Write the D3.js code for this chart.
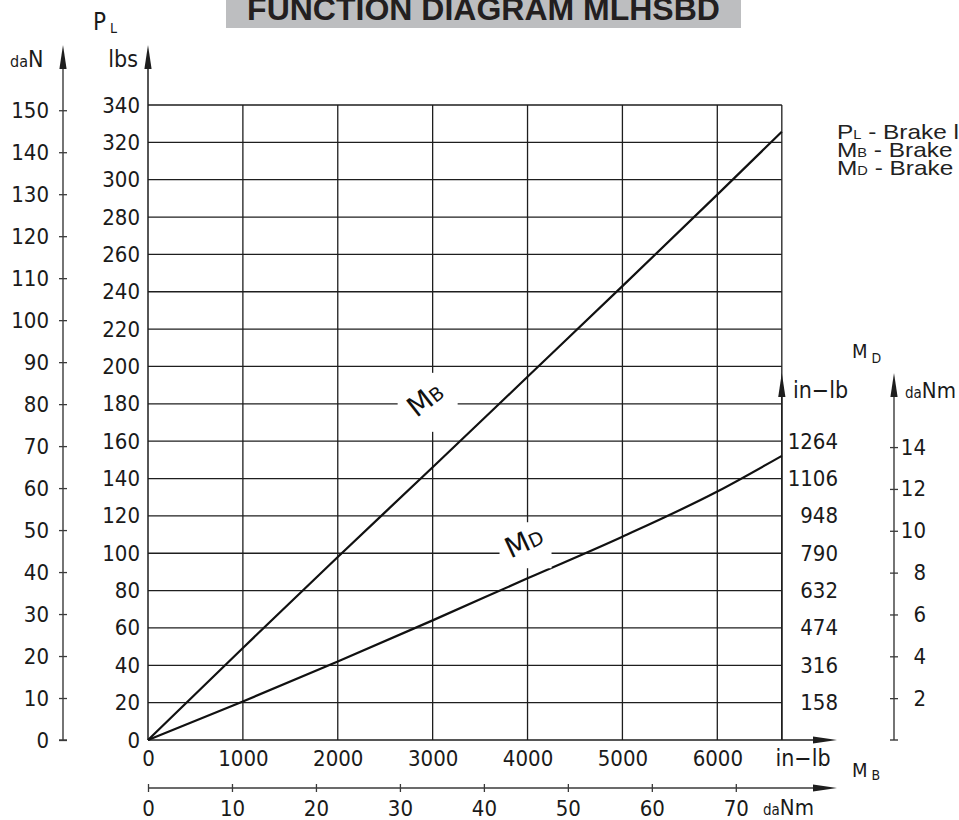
<!DOCTYPE html>
<html>
<head>
<meta charset="utf-8">
<script src="https://cdn.jsdelivr.net/npm/d3@7"></script>
<style>
  body { margin: 0; background: #fff; }
  svg { display: block; }
  .tech { font-family: 'DejaVu Sans Condensed', 'DejaVu Sans', sans-serif; font-stretch: condensed; fill: #1a1a1a; }
  .axis text { font-family: 'DejaVu Sans Condensed', 'DejaVu Sans', sans-serif; font-stretch: condensed; font-size: 22px; fill: #1a1a1a; }
  .axis .domain { display: none; }
  .legend { font-family: 'Liberation Sans', Arial, sans-serif; font-size: 20px; fill: #222; }
</style>
</head>
<body>
<div id="chart"></div>
<script>
// values
let lbsTicks = [0, 20, 40, 60, 80, 100, 120, 140, 160, 180, 200, 220, 240, 260, 280, 300, 320, 340]
let daNTicks = [0, 10, 20, 30, 40, 50, 60, 70, 80, 90, 100, 110, 120, 130, 140, 150]
let inLbTicks = [0, 1000, 2000, 3000, 4000, 5000, 6000]
let daNmTicks = [0, 10, 20, 30, 40, 50, 60, 70]
let mdInLbTicks = [158, 316, 474, 632, 790, 948, 1106, 1264]
let mdDaNmTicks = [2, 4, 6, 8, 10, 12, 14]

// M_B in in-lb (x) against P_L in lbs, and M_D in in-lb
let mbInLb = [0, 1000, 2000, 3000, 4000, 5000, 6000, 6680]
let plLbs  = [0, 49.3, 98, 146, 194.5, 243, 292, 325.7]
let mdInLb = [0, 163, 332, 506, 684, 860, 1051, 1202]

const lbsPerDaN = 2.248
const inLbPerDaNm = 88.5
const xMax = 6680

let W = 959, H = 820
let fmt = d3.format('d')

let svg = d3.select('#chart')
    .append('svg')
    .attr('width', W)
    .attr('height', H)

let x = d3.scaleLinear().domain([0, 6000]).range([148, 717.3])
let y = d3.scaleLinear().domain([0, 340]).range([740, 105])
let yDaN = d3.scaleLinear().domain([0, 150]).range([740, y(150 * lbsPerDaN)])
let yMd = d3.scaleLinear().domain([0, 1264]).range([740, y(160)])
let yMdDaNm = d3.scaleLinear().domain([0, 14]).range([740, yMd(14 * inLbPerDaNm)])
let xDaNm = d3.scaleLinear().domain([0, 70]).range([148, x(70 * inLbPerDaNm)])

const xL = x(0), xR = x(xMax), yB = y(0), yT = y(340)
const ink = '#1e1e1e'

function arrowUp(cx, tip) {
    return `M${cx},${tip} L${cx - 3.6},${tip + 24} L${cx + 3.6},${tip + 24} Z`
}
function arrowRight(tip, cy) {
    return `M${tip},${cy} L${tip - 24},${cy - 3.6} L${tip - 24},${cy + 3.6} Z`
}

// title
svg.append('rect').attr('x', 226).attr('y', 0).attr('width', 515).attr('height', 28).attr('fill', '#bdbec0')
svg.append('text')
    .attr('x', 483.5).attr('y', 20)
    .attr('text-anchor', 'middle')
    .style('font-family', "'Liberation Sans', Arial, sans-serif")
    .style('font-weight', 'bold')
    .style('font-size', '32px')
    .style('fill', '#231f20')
    .text('FUNCTION DIAGRAM MLHSBD')

// grid
let grid = svg.append('g').attr('stroke', ink).attr('stroke-width', 1.3)
grid.selectAll('.hgrid')
    .data(lbsTicks.slice(1))
    .join('line')
    .attr('x1', xL).attr('x2', xR)
    .attr('y1', d => y(d)).attr('y2', d => y(d))
grid.selectAll('.vgrid')
    .data(inLbTicks.slice(1).concat([xMax]))
    .join('line')
    .attr('x1', d => x(d)).attr('x2', d => x(d))
    .attr('y1', yT).attr('y2', yB)

// main axes lines + arrows
let axes = svg.append('g').attr('stroke', ink).attr('stroke-width', 1.5)
axes.append('line').attr('x1', xL).attr('x2', xL).attr('y1', yB).attr('y2', 60)
axes.append('line').attr('x1', xL).attr('x2', 820).attr('y1', yB).attr('y2', yB)
axes.append('line').attr('x1', xR).attr('x2', xR).attr('y1', yB).attr('y2', 390)
svg.append('path').attr('d', arrowUp(xL, 45)).attr('fill', ink)
svg.append('path').attr('d', arrowRight(837, yB)).attr('fill', ink)
svg.append('path').attr('d', arrowUp(xR, 373)).attr('fill', ink)

// secondary axes
const axGray = '#3a3a3a'
function sideLine(x1, y1, x2, y2) {
    svg.append('line').attr('x1', x1).attr('y1', y1).attr('x2', x2).attr('y2', y2)
        .attr('stroke', axGray).attr('stroke-width', 1.4)
}
sideLine(63, yB, 63, 60)
svg.append('path').attr('d', arrowUp(63, 45)).attr('fill', ink)
sideLine(894, yB, 894, 390)
svg.append('path').attr('d', arrowUp(894, 373)).attr('fill', ink)
sideLine(xL, 788, 820, 788)
svg.append('path').attr('d', arrowRight(837, 788)).attr('fill', ink)

// lbs
svg.append('g').attr('class', 'axis')
    .attr('transform', `translate(${xL},0)`)
    .call(d3.axisLeft(y).tickValues(lbsTicks).tickFormat(fmt).tickSize(0).tickPadding(8))

// daN
let gDaN = svg.append('g').attr('class', 'axis')
    .attr('transform', 'translate(63,0)')
    .call(d3.axisLeft(yDaN).tickValues(daNTicks).tickFormat(fmt).tickSize(4).tickPadding(10))
gDaN.selectAll('.tick line').attr('x1', -4).attr('x2', 4).attr('stroke', axGray).attr('stroke-width', 1.3)

// in-lb (M_B)
svg.append('g').attr('class', 'axis')
    .attr('transform', `translate(0,${yB})`)
    .call(d3.axisBottom(x).tickValues(inLbTicks).tickFormat(fmt).tickSize(0).tickPadding(10))

// daNm (M_B)
let gDaNm = svg.append('g').attr('class', 'axis')
    .attr('transform', 'translate(0,788)')
    .call(d3.axisBottom(xDaNm).tickValues(daNmTicks).tickFormat(fmt).tickSize(4).tickPadding(8))
gDaNm.selectAll('.tick line').attr('y1', -4).attr('y2', 4).attr('stroke', axGray).attr('stroke-width', 1.3)

// in-lb (M_D), labels right-aligned
svg.append('g').attr('class', 'axis')
    .attr('transform', `translate(${xR},0)`)
    .call(d3.axisRight(yMd).tickValues(mdInLbTicks).tickFormat(fmt).tickSize(0).tickPadding(0))
    .selectAll('text').attr('text-anchor', 'end').attr('x', 838 - xR)

// daNm (M_D)
let gMd = svg.append('g').attr('class', 'axis')
    .attr('transform', 'translate(894,0)')
    .call(d3.axisRight(yMdDaNm).tickValues(mdDaNmTicks).tickFormat(fmt).tickSize(4))
gMd.selectAll('.tick line').attr('x1', -4).attr('x2', 4).attr('stroke', axGray).attr('stroke-width', 1.3)
gMd.selectAll('text').attr('text-anchor', 'end').attr('x', 32)
sideLine(890, yB, 898, yB)
sideLine(59, yB, 67, yB)

// curves
let lineMB = d3.line().x(d => x(d[0])).y(d => y(d[1])).curve(d3.curveMonotoneX)
let lineMD = d3.line().x(d => x(d[0])).y(d => yMd(d[1])).curve(d3.curveMonotoneX)
svg.append('path')
    .datum(d3.zip(mbInLb, plLbs))
    .attr('d', lineMB)
    .attr('fill', 'none').attr('stroke', '#111').attr('stroke-width', 2.2)
svg.append('path')
    .datum(d3.zip(mbInLb, mdInLb))
    .attr('d', lineMD)
    .attr('fill', 'none').attr('stroke', '#111').attr('stroke-width', 2.2)

// curve labels on white patches
function curveLabel(cx, cy, rw, rh, rdx, rdy, angle, big, small) {
    svg.append('rect')
        .attr('x', cx + rdx - rw / 2).attr('y', cy + rdy - rh / 2)
        .attr('width', rw).attr('height', rh).attr('fill', '#fff')
    let t = svg.append('text')
        .attr('transform', `translate(${cx + rdx},${cy + rdy}) rotate(${angle})`)
        .attr('text-anchor', 'middle')
        .attr('dy', '0.36em')
        .style('font-family', "'DejaVu Sans', sans-serif")
        .style('fill', '#111')
    t.append('tspan').style('font-size', '28px').text(big)
    t.append('tspan').style('font-size', '19px').text(small)
}
curveLabel(x(3000), y(180), 60, 59, -5, -1.5, -38, 'M', 'B')
curveLabel(x(4000), y(100), 52, 46, -2, -8, -25, 'M', 'D')

// axis titles
function sub(xp, yp, big, bigSize, small, smallSize, dy) {
    let t = svg.append('text').attr('class', 'tech').attr('x', xp).attr('y', yp)
    t.append('tspan').style('font-size', bigSize + 'px').text(big)
    t.append('tspan').attr('dx', 4).attr('dy', dy).style('font-size', smallSize + 'px').text(small)
}
sub(93, 30, 'P', 24, 'L', 14, 3)
sub(852, 358, 'M', 20, 'D', 14, 5)
sub(852, 777, 'M', 20, 'B', 14, 3)

svg.append('text').attr('class', 'tech').attr('x', 138).attr('y', 67).attr('text-anchor', 'end')
    .style('font-size', '23px').text('lbs')
let daN = svg.append('text').attr('class', 'tech').attr('x', 10).attr('y', 67)
daN.append('tspan').style('font-size', '16px').text('da')
daN.append('tspan').style('font-size', '23px').text('N')

svg.append('text').attr('class', 'tech').attr('x', 793).attr('y', 398)
    .style('font-size', '23px').text('in\u2212lb')
let dnm = svg.append('text').attr('class', 'tech').attr('x', 905).attr('y', 398)
dnm.append('tspan').style('font-size', '15px').text('da')
dnm.append('tspan').style('font-size', '22px').text('Nm')

svg.append('text').attr('class', 'tech').attr('x', 803).attr('y', 766).attr('text-anchor', 'middle')
    .style('font-size', '23px').text('in\u2212lb')
let dnm2 = svg.append('text').attr('class', 'tech').attr('x', 763).attr('y', 815)
dnm2.append('tspan').style('font-size', '15px').text('da')
dnm2.append('tspan').style('font-size', '22px').text('Nm')

// legend (runs off the right edge), stretched a little wider like the source
let legendRows = [['P', 'L', ' - Brake lining force'], ['M', 'B', ' - Brake torque'], ['M', 'D', ' - Brake moment']]
svg.selectAll('.legend')
    .data(legendRows)
    .join('text')
    .attr('class', 'legend')
    .attr('transform', (d, i) => `translate(837,${139 + i * 18}) scale(1.22,1)`)
    .each(function (d) {
        let t = d3.select(this)
        t.append('tspan').text(d[0])
        t.append('tspan').style('font-size', '12px').text(d[1])
        t.append('tspan').text(' ')
        t.append('tspan').text(d[2])
    })
</script>
</body>
</html>
